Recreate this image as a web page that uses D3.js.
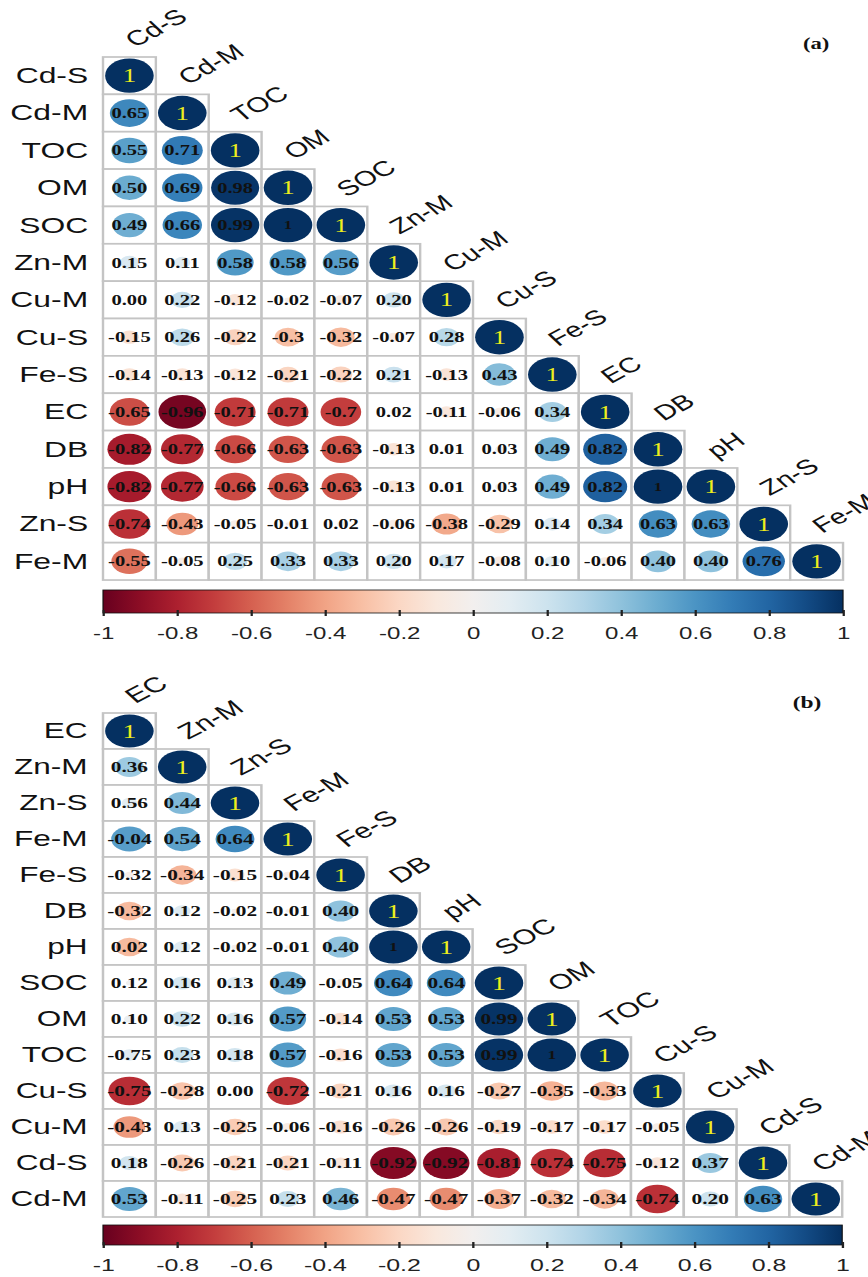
<!DOCTYPE html>
<html>
<head>
<meta charset="utf-8">
<script src="https://cdn.jsdelivr.net/npm/d3@7"></script>
<style>
  body { margin: 0; background: #fff; }
</style>
</head>
<body>
<div id="chart"></div>
<script>
// panel (a) variables and printed correlations (lower triangle, row by row)
const varsA = ["Cd-S", "Cd-M", "TOC", "OM", "SOC", "Zn-M", "Cu-M", "Cu-S", "Fe-S", "EC", "DB", "pH", "Zn-S", "Fe-M"];
const corrA = [
  ["1"],
  ["0.65", "1"],
  ["0.55", "0.71", "1"],
  ["0.50", "0.69", "0.98", "1"],
  ["0.49", "0.66", "0.99", "1", "1"],
  ["0.15", "0.11", "0.58", "0.58", "0.56", "1"],
  ["0.00", "0.22", "-0.12", "-0.02", "-0.07", "0.20", "1"],
  ["-0.15", "0.26", "-0.22", "-0.3", "-0.32", "-0.07", "0.28", "1"],
  ["-0.14", "-0.13", "-0.12", "-0.21", "-0.22", "0.21", "-0.13", "0.43", "1"],
  ["-0.65", "-0.96", "-0.71", "-0.71", "-0.7", "0.02", "-0.11", "-0.06", "0.34", "1"],
  ["-0.82", "-0.77", "-0.66", "-0.63", "-0.63", "-0.13", "0.01", "0.03", "0.49", "0.82", "1"],
  ["-0.82", "-0.77", "-0.66", "-0.63", "-0.63", "-0.13", "0.01", "0.03", "0.49", "0.82", "1", "1"],
  ["-0.74", "-0.43", "-0.05", "-0.01", "0.02", "-0.06", "-0.38", "-0.29", "0.14", "0.34", "0.63", "0.63", "1"],
  ["-0.55", "-0.05", "0.25", "0.33", "0.33", "0.20", "0.17", "-0.08", "0.10", "-0.06", "0.40", "0.40", "0.76", "1"]
];

// panel (b)
const varsB = ["EC", "Zn-M", "Zn-S", "Fe-M", "Fe-S", "DB", "pH", "SOC", "OM", "TOC", "Cu-S", "Cu-M", "Cd-S", "Cd-M"];
const corrB = [
  ["1"],
  ["0.36", "1"],
  ["0.56", "0.44", "1"],
  ["-0.04", "0.54", "0.64", "1"],
  ["-0.32", "-0.34", "-0.15", "-0.04", "1"],
  ["-0.32", "0.12", "-0.02", "-0.01", "0.40", "1"],
  ["0.02", "0.12", "-0.02", "-0.01", "0.40", "1", "1"],
  ["0.12", "0.16", "0.13", "0.49", "-0.05", "0.64", "0.64", "1"],
  ["0.10", "0.22", "0.16", "0.57", "-0.14", "0.53", "0.53", "0.99", "1"],
  ["-0.75", "0.23", "0.18", "0.57", "-0.16", "0.53", "0.53", "0.99", "1", "1"],
  ["-0.75", "-0.28", "0.00", "-0.72", "-0.21", "0.16", "0.16", "-0.27", "-0.35", "-0.33", "1"],
  ["-0.43", "0.13", "-0.25", "-0.06", "-0.16", "-0.26", "-0.26", "-0.19", "-0.17", "-0.17", "-0.05", "1"],
  ["0.18", "-0.26", "-0.21", "-0.21", "-0.11", "-0.92", "-0.92", "-0.81", "-0.74", "-0.75", "-0.12", "0.37", "1"],
  ["0.53", "-0.11", "-0.25", "0.23", "0.46", "-0.47", "-0.47", "-0.37", "-0.32", "-0.34", "-0.74", "0.20", "0.63", "1"]
];
// in the EC column of (b) the circles don't follow the printed numbers: [row, col, circle value]
const circleFixB = [
  [2, 0, 0.10], [3, 0, 0.56], [4, 0, -0.04], [5, 0, -0.32], [6, 0, -0.32],
  [7, 0, 0.02], [8, 0, 0.05], [9, 0, 0.12]
];

const legendTicks = [-1, -0.8, -0.6, -0.4, -0.2, 0, 0.2, 0.4, 0.6, 0.8, 1];

const width = 868, height = 1277;

const svg = d3.select("#chart").append("svg")
  .attr("width", width)
  .attr("height", height)
  .style("background", "#fff");

const color = d3.scaleSequential(d3.interpolateRdBu).domain([-1, 1]);

// shared gradient for the colour bars
const grad = svg.append("defs").append("linearGradient").attr("id", "rdbu");
d3.range(0, 1.0001, 0.05).forEach(t => {
  grad.append("stop").attr("offset", t).attr("stop-color", color(-1 + 2 * t));
});

function drawPanel(cfg) {
  const n = cfg.vars.length;
  const c = cfg.cellH;
  const sx = cfg.cellW / cfg.cellH;   // the figure is stretched sideways
  const g = svg.append("g")
    .attr("transform", `translate(${cfg.x},${cfg.y}) scale(${sx},1)`);

  const band = d3.scaleBand().domain(d3.range(n)).range([0, n * c]);
  const rad = d3.scaleSqrt().domain([0, 1]).range([0, c * 0.46]);

  let cells = [];
  cfg.rows.forEach((row, i) => row.forEach((lab, j) => {
    cells.push({ i: i, j: j, lab: lab, v: +lab });
  }));
  cfg.fixes.forEach(([i, j, v]) => {
    cells.find(d => d.i === i && d.j === j).v = v;
  });

  // cell borders
  g.append("g").selectAll("rect")
    .data(cells)
    .enter().append("rect")
    .attr("x", d => band(d.j))
    .attr("y", d => band(d.i))
    .attr("width", c)
    .attr("height", c)
    .attr("fill", "#fff")
    .attr("stroke", "#c4c4c4")
    .attr("stroke-width", 1.7);

  // circles
  g.append("g").selectAll("circle")
    .data(cells)
    .enter().append("circle")
    .attr("cx", d => band(d.j) + c / 2)
    .attr("cy", d => band(d.i) + c / 2)
    .attr("r", d => rad(Math.abs(d.v)))
    .attr("fill", d => color(d.v));

  // numbers
  g.append("g").selectAll("text")
    .data(cells)
    .enter().append("text")
    .attr("x", d => band(d.j) + c / 2)
    .attr("y", d => band(d.i) + c / 2)
    .attr("text-anchor", "middle")
    .attr("dy", "0.35em")
    .attr("font-family", "Liberation Serif, serif")
    .attr("font-weight", d => d.i === d.j ? "normal" : "bold")
    .attr("font-size", d => d.i === d.j ? 19 : (d.lab === "1" ? 12 : cfg.numSize))
    .attr("fill", d => d.i === d.j ? "#eeee1c" : "#111")
    .text(d => d.lab);

  // row labels
  g.append("g").selectAll("text")
    .data(cfg.vars)
    .enter().append("text")
    .attr("x", -10.5)
    .attr("y", (d, i) => band(i) + c / 2)
    .attr("dy", "0.33em")
    .attr("text-anchor", "end")
    .attr("font-family", "Liberation Sans, Arial, sans-serif")
    .attr("font-size", cfg.labSize)
    .attr("fill", "#111")
    .text(d => d);

  // diagonal labels
  g.append("g").selectAll("text")
    .data(cfg.vars)
    .enter().append("text")
    .attr("transform", (d, i) => `translate(${band(i) + c / 2 + 4},${band(i) - 9}) rotate(-37)`)
    .attr("font-family", "Liberation Sans, Arial, sans-serif")
    .attr("font-size", 21)
    .attr("fill", "#111")
    .text(d => d);

  // colour bar
  const bx = d3.scaleLinear().domain([-1, 1]).range([0, n * c]);
  g.append("rect")
    .attr("x", 0)
    .attr("y", cfg.barTop)
    .attr("width", n * c)
    .attr("height", cfg.barH)
    .attr("fill", "url(#rdbu)")
    .attr("stroke", "#111")
    .attr("stroke-width", 0.8);

  const axis = g.append("g")
    .attr("transform", `translate(0,${cfg.barTop + cfg.barH - 3})`)
    .call(d3.axisBottom(bx).tickValues(legendTicks).tickSize(6).tickPadding(11)
      .tickFormat(d => String(d)));
  axis.select(".domain").remove();
  axis.selectAll(".tick line").attr("stroke", "#222").attr("stroke-width", 1.6);
  axis.selectAll(".tick text")
    .attr("font-family", "Liberation Sans, Arial, sans-serif")
    .attr("font-size", 17)
    .attr("fill", "#222");

  // panel tag
  g.append("text")
    .attr("x", cfg.tagX)
    .attr("y", cfg.tagY)
    .attr("dy", "0.35em")
    .attr("text-anchor", "middle")
    .attr("font-family", "Liberation Serif, serif")
    .attr("font-weight", "bold")
    .attr("font-size", 16)
    .attr("fill", "#111")
    .text(cfg.tag);
}

drawPanel({
  vars: varsA, rows: corrA, fixes: [],
  x: 103, y: 57, cellW: 52.86, cellH: 37.36,
  barTop: 533, barH: 23,
  labSize: 22.5, numSize: 14.5,
  tag: "(a)", tagX: 504, tagY: -14
});

drawPanel({
  vars: varsB, rows: corrB, fixes: circleFixB,
  x: 103, y: 713, cellW: 52.8, cellH: 36,
  barTop: 512, barH: 20,
  labSize: 21.5, numSize: 14.5,
  tag: "(b)", tagX: 480, tagY: -11
});
</script>
</body>
</html>
